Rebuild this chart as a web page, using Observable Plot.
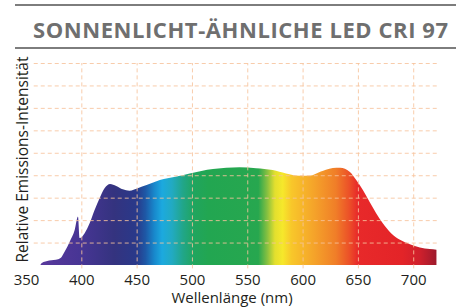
<!DOCTYPE html>
<html><head><meta charset="utf-8">
<script src="https://cdn.jsdelivr.net/npm/d3@7"></script>
<script src="https://cdn.jsdelivr.net/npm/@observablehq/plot@0.6"></script>
<style>
body{margin:0;background:#fff;font-family:"Open Sans",sans-serif;}
#wrap{position:relative;width:456px;height:307px;overflow:hidden;background:#fff;}
#head{position:relative;height:50px;}
.rule{position:absolute;left:15px;right:0;height:2px;background:#7d7d7d;}
#title{position:absolute;left:33px;top:18px;font-size:22px;line-height:22px;font-weight:700;color:#6f6f6f;white-space:nowrap;}
#chart svg{display:block;overflow:visible;}
</style></head><body>
<div id="wrap"><div id="head"><div class="rule" style="top:4px"></div><div id="title"></div><div class="rule" style="top:47px"></div></div><div id="chart"></div></div>
<script>
const titleText = "SONNENLICHT-ÄHNLICHE LED CRI 97";
const xLabel = "Wellenlänge (nm)";
const yLabel = "Relative Emissions-Intensität";
const xTicks = [350, 400, 450, 500, 550, 600, 650, 700];
const yGrid = [1, 2, 3, 4, 5, 6, 7, 8, 9];
const wavelength = [363, 364, 371, 379, 382, 385, 389.5, 394, 397, 398.5, 403, 407.5, 412, 416.5, 421, 426, 431.5, 437.5, 443.5, 451, 459, 471, 485, 498, 519, 543, 558, 573, 585, 597, 606, 618, 630.5, 634, 642.5, 648.5, 654.5, 660.5, 666.5, 672.5, 680, 688, 697, 706, 715, 721];
const intensity = [0, 0.08, 0.2, 0.26, 0.35, 0.6, 1.04, 1.56, 2.16, 1.2, 1.42, 1.86, 2.45, 2.97, 3.42, 3.61, 3.52, 3.37, 3.31, 3.42, 3.56, 3.79, 3.93, 4.08, 4.28, 4.35, 4.31, 4.23, 4.08, 3.98, 3.98, 4.19, 4.33, 4.33, 4.16, 3.79, 3.34, 2.82, 2.31, 1.86, 1.42, 1.12, 0.93, 0.78, 0.71, 0.68];
const stopNm = [363, 400, 430, 450, 458, 466, 473, 482, 492, 502, 515, 560, 568, 575, 582, 590, 610, 630, 642, 650, 690, 706, 721];
const stopColor = ["#58389c", "#473594", "#34337f", "#29398a", "#1e58a6", "#1888cc", "#1ca9df", "#22aac2", "#21a688", "#20a55e", "#22a651", "#27a74f", "#86c040", "#e3df2e", "#f6e82b", "#f8c72a", "#f5a42a", "#f07e28", "#ec5128", "#e8292a", "#e32428", "#cf202c", "#9d1a2d"];

const data = wavelength.map((w, i) => ({w, v: intensity[i]}));
const gridColor = "#f7c39c";

const plot = Plot.plot({
  width: 456, height: 257,
  marginTop: 13, marginBottom: 42, marginLeft: 26, marginRight: 19,
  style: {fontFamily: "'Open Sans', sans-serif", fontSize: "15px", color: "#231f20", background: "white", overflow: "visible"},
  x: {domain: [350, 721.5], ticks: xTicks, tickSize: 0, tickPadding: 9, tickFormat: d => String(d), label: null},
  y: {domain: [0, 9], axis: null},
  marks: [
    Plot.areaY(data, {x: "w", y: "v", fill: "url(#specGrad)", curve: "monotone-x"}),
    Plot.ruleY(yGrid, {x1: 357, x2: 721.5, stroke: gridColor, strokeDasharray: "4,3", strokeOpacity: 0.85}),
    Plot.ruleX(xTicks.filter(d => d > 350), {y1: -0.15, y2: 9, stroke: gridColor, strokeDasharray: "4,3", strokeOpacity: 0.85}),
    Plot.text([yLabel], {frameAnchor: "left", textAnchor: "middle", rotate: -90, dx: -3, dy: -5, fontSize: 15.5, fill: "#231f20"}),
    Plot.text([xLabel], {frameAnchor: "bottom", dy: 37, fontSize: 15, fill: "#231f20"})
  ]
});

const xs = plot.scale("x");
const x0 = xs.apply(stopNm[0]), x1 = xs.apply(stopNm[stopNm.length - 1]);
const svg = d3.select(plot);
const grad = svg.insert("defs", ":first-child").append("linearGradient")
  .attr("id", "specGrad").attr("gradientUnits", "userSpaceOnUse")
  .attr("x1", x0).attr("x2", x1).attr("y1", 0).attr("y2", 0);
stopNm.forEach((nm, i) => {
  grad.append("stop").attr("offset", (xs.apply(nm) - x0) / (x1 - x0)).attr("stop-color", stopColor[i]);
});
document.getElementById("chart").appendChild(plot);

const t = document.getElementById("title");
t.textContent = titleText;
const w = t.getBoundingClientRect().width;
t.style.letterSpacing = ((415 - w) / (titleText.length - 1)) + "px";
</script>
</body></html>
